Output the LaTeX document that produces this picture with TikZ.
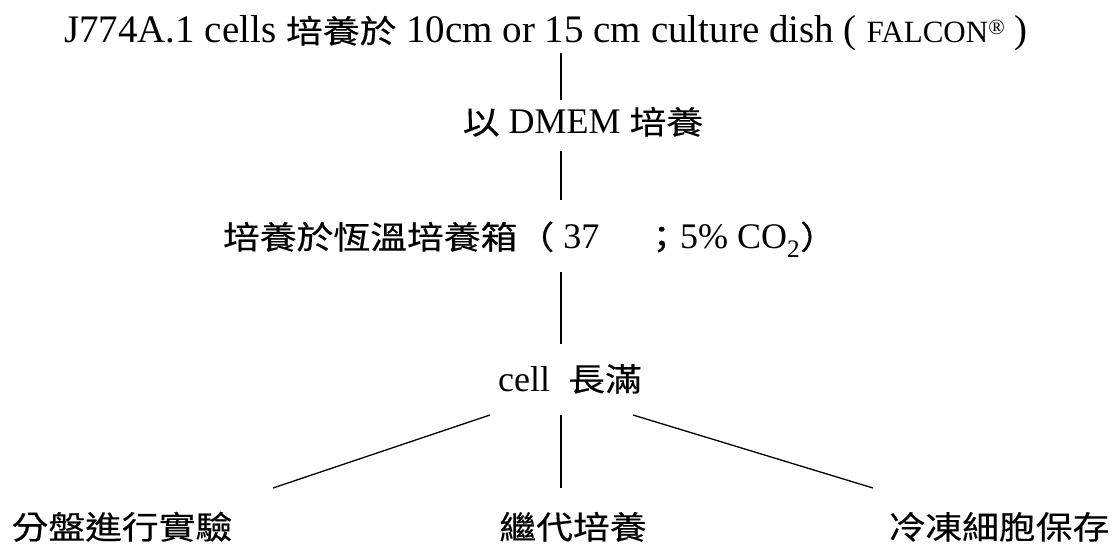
\documentclass[tikz,border=0pt]{standalone}
\usepackage{fontspec}
\setmainfont{Liberation Serif}
\newfontfamily\cjk[FakeStretch=1.15,FakeBold=0.4]{Noto Sans CJK TC}
\newcommand{\zh}[1]{{\cjk\fontsize{32bp}{36bp}\selectfont #1}}
\begin{document}
\begin{tikzpicture}[x=1bp,y=-1bp,
  lbl/.style={inner sep=0pt, anchor=base, font=\fontsize{36bp}{40bp}\selectfont},
  toplbl/.style={lbl, font=\fontsize{39bp}{44bp}\selectfont},
  conn/.style={line width=1.3bp, black}]
\useasboundingbox (0,0) rectangle (1118,548);

\node[toplbl] (top) at (546,43) {J774A.1 cells \zh{培養於} 10cm or 15 cm culture dish ( {\fontsize{31bp}{34bp}\selectfont FALCON\textsuperscript{®}} )};
\node[lbl] (dmem) at (583,134) {\zh{以} DMEM \zh{培養}};
\node[lbl] (incub) at (530,249) {\zh{培養於恆溫培養箱（}\hspace{9bp}37\hspace{44bp}\zh{；}5\% CO\textsubscript{2}\zh{）}};
\node[lbl] (cell) at (570,391) {cell\hspace{18bp}\zh{長滿}};
\node[lbl] (plate) at (122,539) {\zh{分盤進行實驗}};
\node[lbl] (sub) at (573,539) {\zh{繼代培養}};
\node[lbl] (frz) at (999,539) {\zh{冷凍細胞保存}};

\coordinate (a1) at (561,53);  \coordinate (b1) at (561,100);
\coordinate (a2) at (561,151); \coordinate (b2) at (561,200);
\coordinate (a3) at (561,272); \coordinate (b3) at (561,344);
\coordinate (cl) at (490,415); \coordinate (cm) at (561,415); \coordinate (cr) at (633,415);
\coordinate (pl) at (273,488); \coordinate (sm) at (561,488); \coordinate (fr) at (873,488);

\draw[conn] (a1) -- (b1);
\draw[conn] (a2) -- (b2);
\draw[conn] (a3) -- (b3);
\draw[conn] (cl) -- (pl);
\draw[conn] (cm) -- (sm);
\draw[conn] (cr) -- (fr);
\end{tikzpicture}
\end{document}
